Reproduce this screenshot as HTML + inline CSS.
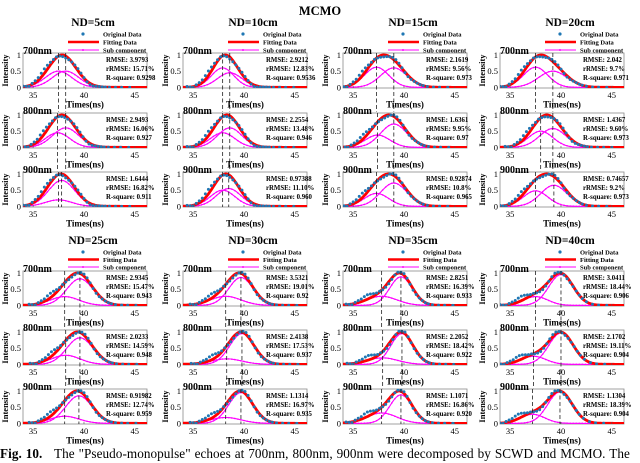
<!DOCTYPE html>
<html><head><meta charset="utf-8">
<style>
html,body{margin:0;padding:0;background:#fff;}
body{width:640px;height:463px;overflow:hidden;position:relative;font-family:"Liberation Serif",serif;}
#cap{position:absolute;left:0;top:446px;width:640px;font-size:13.2px;line-height:15px;white-space:nowrap;letter-spacing:0.05px;word-spacing:0.6px;background:transparent;}
</style></head><body>
<div id="cap"><b>Fig. 10.</b>&nbsp;&nbsp; The "Pseudo-monopulse" echoes at 700nm, 800nm, 900nm were decomposed by SCWD and MCMO. The</div>
<svg id="fig" width="640" height="463" viewBox="0 0 640 463" style="position:absolute;left:0;top:0;font-family:'Liberation Serif',serif">
<text x="320" y="15" text-anchor="middle" font-weight="bold" font-size="12.5">MCMO</text>
</svg>
<script>
// ---- data ----
const ndLabels = ["ND=5cm","ND=10cm","ND=15cm","ND=20cm","ND=25cm","ND=30cm","ND=35cm","ND=40cm"];
const wavelengths = ["700nm","800nm","900nm"];
const xTicks = [35,40,45];
const yTicks = [0,0.5,1];
const yTickLabels = ["0","0.5","1"];
const center1 = [[37.5,37.4,37.5],[37.9,37.9,37.9],[37.3,37.4,37.3],[37.5,38.0,37.5],[38.1,38.2,38.1],[38.2,38.3,38.2],[37.8,37.9,37.8],[37.5,37.3,37.2]];
const center2 = [[38.2,38.2,37.8],[38.6,38.6,38.5],[39.0,39.0,39.0],[39.2,39.2,39.3],[39.6,39.6,39.5],[39.7,39.8,39.7],[39.7,39.8,39.7],[40.0,40.0,39.9]];
const amp1 = [[0.5,0.45,0.2],[0.6,0.45,0.5],[0.62,0.38,0.4],[0.62,0.5,0.48],[0.27,0.28,0.22],[0.28,0.17,0.18],[0.28,0.2,0.32],[0.27,0.25,0.28]];
const amp2 = [[0.5,0.6,0.8],[0.45,0.6,0.55],[0.6,0.72,0.72],[0.5,0.58,0.65],[0.82,0.82,0.85],[0.86,0.95,0.95],[0.88,0.95,0.88],[0.95,0.97,0.97]];
const sigma1 = [[1.3,1.2,1.3],[1.1,1.2,1.2],[1.2,1.2,1.2],[1.2,1.2,1.2],[1.4,1.4,1.4],[1.5,1.5,1.5],[1.5,1.5,1.5],[1.2,1.2,1.2]];
const sigma2 = [[1.3,1.3,1.3],[1.2,1.2,1.2],[1.3,1.3,1.3],[1.4,1.3,1.3],[1.3,1.3,1.3],[1.2,1.2,1.2],[1.1,1.1,1.1],[1.2,1.2,1.2]];
const rmse = [["3.9793","2.9493","1.6444"],["2.9212","2.2554","0.97388"],["2.1619","1.6361","0.92874"],["2.042","1.4367","0.74657"],["2.9345","2.0233","0.91982"],["3.5321","2.4138","1.1314"],["2.8251","2.2052","1.1071"],["3.0411","2.1702","1.1304"]];
const rrmse = [["15.71%","16.06%","16.82%"],["12.83%","13.48%","11.10%"],["9.56%","9.95%","10.8%"],["9.7%","9.60%","9.2%"],["15.47%","14.59%","12.74%"],["19.01%","17.53%","16.97%"],["16.39%","18.42%","16.86%"],["18.44%","19.11%","18.39%"]];
const rsq = [["0.9298","0.927","0.911"],["0.9536","0.946","0.960"],["0.973","0.97","0.965"],["0.971","0.973","0.973"],["0.943","0.948","0.959"],["0.92","0.937","0.935"],["0.933","0.922","0.920"],["0.906","0.904","0.904"]];
const sampleOffsets = [-3.5,-3.2,-2.9,-2.6,-2.3,-2.0,-1.7,-1.4,-1.1,-0.8,-0.5,-0.2,0.1,0.4,0.7,1.0,1.3,1.6,1.9,2.2,2.5,2.8,3.1,3.4,3.7,4.0,4.3,4.6,5.0,5.6,6.2,7.0];
const residuals = [0.02,0.0,-0.02,0.03,0.06,0.08,0.12,0.14,0.12,0.08,0.04,0.02,-0.02,-0.05,-0.06,-0.04,0.0,0.04,0.06,0.05,0.02,-0.02,-0.04,-0.03,-0.01,0.0,0.0,0.0,0.0,0.0,0.0,0.0];

// ---- layout ----
const colX = [23,183,343,500];
const plotW = 124, plotH = 35;
const rowYUpper = [53,113,172], rowYLower = [271,330,389];
const titleY = [26,244];
const legendGap = [8,7.5];
const xMin = 34, xMax = 46.2, yMin = -0.02, yMax = 1.06;
const NS = "http://www.w3.org/2000/svg";
const svg = document.getElementById('fig');
function mk(tag, attrs, parent){const e=document.createElementNS(NS,tag);for(const k in attrs)e.setAttribute(k,attrs[k]);(parent||svg).appendChild(e);return e;}
function gauss(t,a,c,s){return a*Math.exp(-((t-c)*(t-c))/(2*s*s));}

for(let p=0;p<8;p++){
  const col=p%4, blk=Math.floor(p/4);
  const x0=colX[col], rows= blk?rowYLower:rowYUpper;
  const g=mk('g',{});
  
  
  const tt=mk('text',{x:x0+70,y:titleY[blk],'text-anchor':'middle','font-weight':'bold','font-size':'11.5'},g);
  tt.textContent=ndLabels[p];
  
  
  const lg=mk('g',{},g);
  
  
  const ly=titleY[blk]+8, lgap=legendGap[blk];
  mk('circle',{cx:x0+60,cy:ly,r:1.6,fill:'#1f77b4'},lg);
  mk('line',{x1:x0+45,x2:x0+76,y1:ly+lgap,y2:ly+lgap,stroke:'#f00','stroke-width':2.6},lg);
  mk('line',{x1:x0+45,x2:x0+76,y1:ly+2*lgap,y2:ly+2*lgap,stroke:'#f0f','stroke-width':1},lg);
  mk('circle',{cx:x0+60,cy:ly+2*lgap,r:1,fill:'#f0f'},lg);
  ["Original Data","Fitting Data","Sub component"].forEach((s,i)=>{const t=mk('text',{x:x0+80,y:ly+2.5+i*lgap,'font-size':'6.5','font-weight':'bold'},lg);t.textContent=s;});
  for(let r=0;r<3;r++){
    const y0=rows[r];
    const sx=v=>x0+(v-xMin)/(xMax-xMin)*plotW;
    const sy=v=>y0+plotH-(v-yMin)/(yMax-yMin)*plotH;
    const c1=center1[p][r],c2=center2[p][r],a1=amp1[p][r],a2=amp2[p][r],s1=sigma1[p][r],s2=sigma2[p][r];
    const sum=t=>gauss(t,a1,c1,s1)+gauss(t,a2,c2,s2);
    let peak=0;for(let t=xMin;t<=xMax;t+=0.05)peak=Math.max(peak,sum(t));
    const fit=t=>sum(t)/peak;
    const pg=mk('g',{},g);
    
    
    mk('rect',{x:x0,y:y0,width:plotW,height:plotH,fill:'#fff',stroke:'#8a8a8a','stroke-width':0.8},pg);
    const clip='clip'+p+'_'+r;
    const cp=mk('clipPath',{id:clip},pg);mk('rect',{x:x0,y:y0-3,width:plotW,height:plotH+3},cp);
    const inner=mk('g',{'clip-path':'url(#'+clip+')'},pg);
    let d1='',d2='',df='';
    for(let t=xMin;t<=xMax+0.001;t+=0.1){
      d1+=(d1?'L':'M')+sx(t).toFixed(1)+','+sy(gauss(t,a1,c1,s1)).toFixed(1);
      d2+=(d2?'L':'M')+sx(t).toFixed(1)+','+sy(gauss(t,a2,c2,s2)).toFixed(1);
      df+=(df?'L':'M')+sx(t).toFixed(1)+','+sy(fit(t)).toFixed(1);
    }
    const sc1=mk('path',{d:d1,fill:'none',stroke:'#f0f','stroke-width':1.1},inner);
    
    
    const sc2=mk('path',{d:d2,fill:'none',stroke:'#f0f','stroke-width':1.1},inner);
    
    
    for(let t=xMin;t<=xMax;t+=0.3){
      mk('circle',{cx:sx(t),cy:sy(gauss(t,a1,c1,s1)),r:0.8,fill:'#f0f'},inner);
      mk('circle',{cx:sx(t),cy:sy(gauss(t,a2,c2,s2)),r:0.8,fill:'#f0f'},inner);
    }
    const fl=mk('path',{d:df,fill:'none',stroke:'#f00','stroke-width':2.8},inner);
    
    
    sampleOffsets.forEach((o,i)=>{
      const t=c1+o; if(t<xMin||t>xMax)return;
      const v=Math.max(0,fit(t)+residuals[i]);
      const dc=mk('circle',{cx:sx(t),cy:sy(Math.min(1.02,v)),r:1.5,fill:'#1f77b4'},inner);
      
      
    });
    const ext = r<2 ? 24 : 0;
    [c1,c2].forEach(c=>mk('line',{x1:sx(c),x2:sx(c),y1:y0,y2:y0+plotH+ext,stroke:'#222','stroke-width':0.8,'stroke-dasharray':'4,2.5'},pg));
    xTicks.forEach(v=>{mk('line',{x1:sx(v),x2:sx(v),y1:y0+plotH,y2:y0+plotH-2,stroke:'#555','stroke-width':0.6},pg);const t=mk('text',{x:sx(v),y:y0+plotH+10,'text-anchor':'middle','font-size':'8.5'},pg);t.textContent=v;});
    yTicks.forEach((v,i)=>{const t=mk('text',{x:x0-2,y:sy(v)+3,'text-anchor':'end','font-size':'8.5'},pg);t.textContent=yTickLabels[i];});
    const yl=mk('text',{x:0,y:0,transform:'translate('+(x0-15)+','+(y0+plotH/2)+') rotate(-90)','text-anchor':'middle','font-weight':'bold','font-size':'8.5'},pg);
    yl.textContent='Intensity';
    
    
    const xl=mk('text',{x:x0+62,y:y0+plotH+19.5,'text-anchor':'middle','font-weight':'bold','font-size':'9'},pg);
    xl.textContent='Times(ns)';
    
    
    const wl=mk('text',{x:x0,y:y0+1,'font-weight':'bold','font-size':'10'},pg);
    wl.textContent=wavelengths[r];
    
    
    const st=mk('g',{'font-weight':'bold','font-size':'6.8'},pg);
    
    
    ["RMSE: "+rmse[p][r],"rRMSE: "+rrmse[p][r],"R-square: "+rsq[p][r]].forEach((s,i)=>{const t=mk('text',{x:x0+83,y:y0+9+i*9},st);t.textContent=s;});
  }
}
</script>
</body></html>
